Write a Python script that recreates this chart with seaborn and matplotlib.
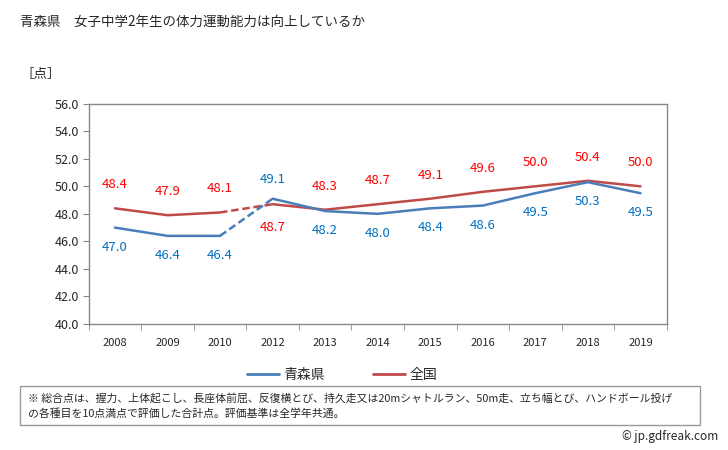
import numpy as np
import pandas as pd
import seaborn as sns
import matplotlib.pyplot as plt
from matplotlib.lines import Line2D
from matplotlib.patches import Rectangle

years = ['2008', '2009', '2010', '2012', '2013', '2014', '2015', '2016', '2017', '2018', '2019']
aomori = [47.0, 46.4, 46.4, 49.1, 48.2, 48.0, 48.4, 48.6, 49.5, 50.3, 49.5]
zenkoku = [48.4, 47.9, 48.1, 48.7, 48.3, 48.7, 49.1, 49.6, 50.0, 50.4, 50.0]

sns.set_style('white')
plt.rcParams['font.family'] = ['Noto Sans CJK JP', 'DejaVu Sans']

blue = '#4a7ebb'
red = '#be4b48'
blue_txt = '#0070c0'
red_txt = '#ff0000'

df = pd.DataFrame({'x': np.arange(len(years)), 'aomori': aomori, 'zenkoku': zenkoku})
gap = years.index('2012')  # 2011 missing -> dashed segment

fig = plt.figure(figsize=(7.28, 4.5), dpi=100)
ax = fig.add_axes([0.1218, 0.28, 0.794, 0.4896])

for col, c in [('zenkoku', red), ('aomori', blue)]:
    sns.lineplot(data=df.iloc[:gap], x='x', y=col, color=c, lw=1.8, ax=ax)
    sns.lineplot(data=df.iloc[gap - 1:gap + 1], x='x', y=col, color=c, lw=1.8, ax=ax, linestyle=(0, (3, 1.5)))
    sns.lineplot(data=df.iloc[gap:], x='x', y=col, color=c, lw=1.8, ax=ax)

# data labels
for i in range(len(years)):
    up = 1 if i != gap else -1
    ax.annotate(f'{zenkoku[i]:.1f}', (i, zenkoku[i]), xytext=(0, 17 * up), textcoords='offset points',
                ha='center', va='center', color=red_txt, fontsize=9.5)
    ax.annotate(f'{aomori[i]:.1f}', (i, aomori[i]), xytext=(0, -14 * up), textcoords='offset points',
                ha='center', va='center', color=blue_txt, fontsize=9.5)

ax.set_xlim(-0.5, len(years) - 0.5)
ax.set_ylim(40, 56)
ax.set_yticks(np.arange(40, 56.1, 2))
ax.set_yticklabels([f'{v:.1f}' for v in np.arange(40, 56.1, 2)], fontsize=9)
ax.set_xticks(np.arange(len(years)))
ax.set_xticklabels(years, fontsize=8)
ax.set_xticks(np.arange(-0.5, len(years)), minor=True)
ax.tick_params(axis='x', which='major', length=0, pad=10)
ax.tick_params(axis='x', which='minor', length=4, color='#888888', direction='out', bottom=True)
ax.tick_params(axis='y', length=4, color='#888888', direction='out', left=True, pad=3)
ax.set_xlabel('')
ax.set_ylabel('')
for s in ax.spines.values():
    s.set_color('#888888')
    s.set_linewidth(1)

fig.text(0.0275, 0.951, '青森県　女子中学2年生の体力運動能力は向上しているか', fontsize=9.7, va='center')
fig.text(0.0275, 0.836, '［点］', fontsize=9.7, va='center')

handles = [Line2D([], [], color=blue, lw=2), Line2D([], [], color=red, lw=2)]
fig.legend(handles, ['青森県', '全国'], loc='center', bbox_to_anchor=(0.47, 0.167), ncol=2,
           frameon=False, fontsize=10, handlelength=2.3, columnspacing=3.5, handletextpad=0.3)

fig.add_artist(Rectangle((0.0275, 0.0556), 0.934, 0.0867, transform=fig.transFigure,
                         fill=False, edgecolor='#999999', lw=1))
fig.text(0.038, 0.116, '※ 総合点は、握力、上体起こし、長座体前屈、反復横とび、持久走又は20mシャトルラン、50m走、立ち幅とび、ハンドボール投げ',
         fontsize=7.8, va='center')
fig.text(0.038, 0.08, 'の各種目を10点満点で評価した合計点。評価基準は全学年共通。', fontsize=7.8, va='center')
fig.text(0.986, 0.03, '© jp.gdfreak.com', fontsize=8.5, ha='right', va='center')

fig.savefig('out.png', dpi=100)
